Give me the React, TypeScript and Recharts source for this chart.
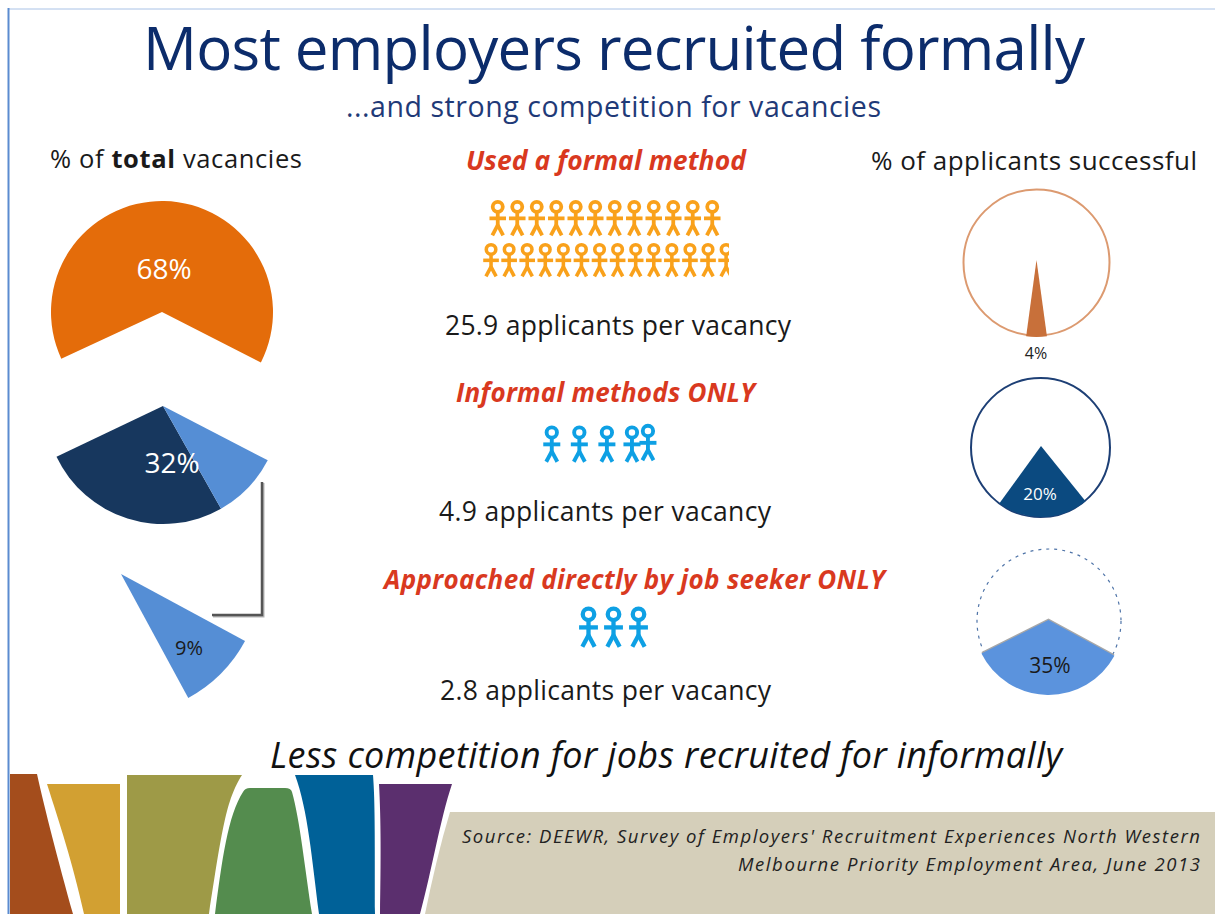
import { Cell, Pie, PieChart, Scatter, ScatterChart, XAxis, YAxis } from "recharts";

const FONT = "'Open Sans', 'Noto Sans', sans-serif";

// drawn shares as measured on the picture (they differ a little from the printed labels)
const formalShare = [64.4, 35.6];
const informalShare = [26.1, 9.2, 64.7];
const directShare = [9.2, 90.8];
const success4 = [4.3, 95.7];
const success20 = [20.8, 79.2];
const success35 = [34.7, 65.3];

const vacancyLabels = ["68%", "32%", "9%"];
const successLabels = ["4%", "20%", "35%"];

const formalRowA = [1, 2, 3, 4, 5, 6, 7, 8, 9, 10, 11, 12];
const formalRowB = [1, 2, 3, 4, 5, 6, 7, 8, 9, 10, 11, 12, 13, 14];
const informalCols = [1, 2, 3, 3.91, 4.49];
const informalRows = [0.5, 0.5, 0.5, 0.5, 0.535];
const directCols = [1, 2, 3];

const toSlices = (values: number[]) => values.map((value) => ({ value }));

function Person({ cx, cy, color, h }: any) {
  const sw = h * 0.105;
  return (
    <g stroke={color} strokeWidth={sw} fill="none">
      <circle cx={cx} cy={cy - h * 0.31} r={h * 0.14} />
      <line x1={cx} y1={cy - h * 0.17} x2={cx} y2={cy + h * 0.22} />
      <line x1={cx - h * 0.23} y1={cy + h * 0.01} x2={cx + h * 0.23} y2={cy + h * 0.01} />
      <line x1={cx} y1={cy + h * 0.2} x2={cx - h * 0.15} y2={cy + h * 0.48} />
      <line x1={cx} y1={cy + h * 0.2} x2={cx + h * 0.15} y2={cy + h * 0.48} />
    </g>
  );
}

function PeopleRow({ cols, rows, domain, left, top, width, height, color, h }: any) {
  const data = cols.map((col: number, i: number) => ({ col, row: rows ? rows[i] : 0.5 }));
  return (
    <div style={{ position: "absolute", left, top }}>
      <ScatterChart width={width} height={height} margin={{ top: 0, right: 0, bottom: 0, left: 0 }}>
        <XAxis type="number" dataKey="col" domain={domain} hide />
        <YAxis type="number" dataKey="row" domain={[0, 1]} hide />
        <Scatter
          data={data}
          isAnimationActive={false}
          shape={(p: any) => <Person cx={p.cx} cy={p.cy} color={color} h={h} />}
        />
      </ScatterChart>
    </div>
  );
}

function T({ x, y, w, size, color = "#1a1a1a", italic, bold, anchor = "start", children }: any) {
  return (
    <text
      x={x}
      y={y}
      fontSize={size}
      fill={color}
      fontStyle={italic ? "italic" : "normal"}
      fontWeight={bold ? 700 : 400}
      textAnchor={anchor}
      textLength={w}
      lengthAdjust={w ? "spacing" : undefined}
      fontFamily={FONT}
    >
      {children}
    </text>
  );
}

export default function App() {
  return (
    <div style={{ position: "absolute", left: 0, top: 0, width: 1215, height: 914, background: "#fff", overflow: "hidden" }}>
      <svg width={1215} height={914} style={{ position: "absolute", left: 0, top: 0 }}>
        <line x1={8} y1={9} x2={1215} y2={9} stroke="#a9c2e6" strokeWidth={1} />
        <line x1={8.5} y1={8} x2={8.5} y2={914} stroke="#5b8bd0" strokeWidth={2} />

        <path d="M10 774 L37 774 C45 810 58 860 73 914 L10 914 Z" fill="#a44d1c" />
        <path d="M47 784 L120 784 L120 914 L84 914 C72 860 60 825 47 784 Z" fill="#d2a032" />
        <path d="M127 775 L242 775 C226 800 222 830 209 914 L127 914 Z" fill="#9e9a47" />
        <path d="M215 914 C222 860 228 815 243 792 Q245 788 250 788 L285 788 Q291 788 292 792 C300 820 305 870 312 914 Z" fill="#548c4e" />
        <path d="M295 775 L373 775 C375 800 375 830 375 914 L319 914 C312 860 308 810 295 775 Z" fill="#006198" />
        <path d="M379 784 L452 784 C440 820 432 870 420 914 L380 914 C381 860 381 820 379 784 Z" fill="#5b2f6e" />
        <path d="M450 812 L1215 812 L1215 914 L425 914 C432 880 440 845 450 812 Z" fill="#d5cfba" />

        <polyline points="263,483 263,616 213,616" fill="none" stroke="#b5b5b5" strokeWidth={3} />
        <polyline points="262,482 262,615 212,615" fill="none" stroke="#555" strokeWidth={2.5} />

        <circle cx={1036.5} cy={262.5} r={73} fill="#fff" stroke="#dc9a70" strokeWidth={2} />
        <circle cx={1040.5} cy={447.5} r={69.5} fill="#fff" stroke="#1d3f75" strokeWidth={2} />
        <circle cx={1049} cy={621} r={72} fill="#fff" stroke="#4f74a8" strokeWidth={1.2} strokeDasharray="3 5" />
      </svg>

      <div style={{ position: "absolute", left: 0, top: 0 }}>
        <PieChart width={1215} height={914} margin={{ top: 0, right: 0, bottom: 0, left: 0 }}>
          <Pie data={toSlices(formalShare)} dataKey="value" cx={162} cy={312} outerRadius={111} startAngle={-27} endAngle={333} stroke="none" isAnimationActive={false}>
            <Cell fill="#e46c0a" />
            <Cell fill="none" />
          </Pie>
          <Pie data={toSlices(informalShare)} dataKey="value" cx={163} cy={406} outerRadius={118} startAngle={205.5} endAngle={565.5} stroke="none" isAnimationActive={false}>
            <Cell fill="#17375e" />
            <Cell fill="#558ed5" />
            <Cell fill="none" />
          </Pie>
          <Pie data={toSlices(directShare)} dataKey="value" cx={121} cy={574} outerRadius={141} startAngle={-61.5} endAngle={298.5} stroke="none" isAnimationActive={false}>
            <Cell fill="#558ed5" />
            <Cell fill="none" />
          </Pie>
          <Pie data={toSlices(success4)} dataKey="value" cx={1036.5} cy={260} outerRadius={77} startAngle={-97.7} endAngle={262.3} stroke="none" isAnimationActive={false}>
            <Cell fill="#c8703a" />
            <Cell fill="none" />
          </Pie>
          <Pie data={toSlices(success20)} dataKey="value" cx={1041} cy={446} outerRadius={71} startAngle={-126} endAngle={234} stroke="none" isAnimationActive={false}>
            <Cell fill="#0b4a80" />
            <Cell fill="none" />
          </Pie>
          <Pie data={toSlices(success35)} dataKey="value" cx={1048.5} cy={618.5} outerRadius={75} startAngle={-153.4} endAngle={206.6} stroke="none" isAnimationActive={false}>
            <Cell fill="#a8a8a8" />
            <Cell fill="none" />
          </Pie>
          <Pie data={toSlices(success35)} dataKey="value" cx={1048.5} cy={620} outerRadius={75} startAngle={-153.4} endAngle={206.6} stroke="none" isAnimationActive={false}>
            <Cell fill="#5b93dd" />
            <Cell fill="none" />
          </Pie>
        </PieChart>
      </div>

      <PeopleRow cols={formalRowA} domain={[0.5, 12.5]} left={488} top={196} width={234} height={44} color="#f9a11b" h={36} />
      <PeopleRow cols={formalRowB} domain={[0.5, 14.16]} left={482} top={240} width={247} height={40} color="#f9a11b" h={34} />
      <PeopleRow cols={informalCols} rows={informalRows} domain={[0.5, 5]} left={538} top={422} width={124} height={44} color="#0ea0e4" h={37} />
      <PeopleRow cols={directCols} domain={[0.5, 3.5]} left={576} top={605} width={75} height={44} color="#0ea0e4" h={41} />

      <svg width={1215} height={914} style={{ position: "absolute", left: 0, top: 0 }}>
        <T x={143} y={70} w={942} size={60} color="#0c2c6b">Most employers recruited formally</T>
        <T x={346} y={117} w={535} size={28.5} color="#1f3a78">...and strong competition for vacancies</T>

        <T x={50} y={168} w={252} size={25.5}>% of <tspan fontWeight={700}>total</tspan> vacancies</T>
        <T x={466} y={170} w={280} size={26.5} color="#d9391f" italic bold>Used a formal method</T>
        <T x={871} y={170} w={326} size={26}>% of applicants successful</T>

        <T x={445} y={335} w={346} size={26.5}>25.9 applicants per vacancy</T>
        <T x={456} y={402} w={299} size={26} color="#d9391f" italic bold>Informal methods ONLY</T>
        <T x={439} y={521} w={332} size={26.5}>4.9 applicants per vacancy</T>
        <T x={384} y={589} w={501} size={26} color="#d9391f" italic bold>Approached directly by job seeker ONLY</T>
        <T x={440} y={700} w={331} size={26.5}>2.8 applicants per vacancy</T>

        <T x={270} y={768} w={792} size={36} color="#111" italic>Less competition for jobs recruited for informally</T>

        <T x={462} y={843} w={738} size={18.5} color="#222" italic>Source: DEEWR, Survey of Employers' Recruitment Experiences  North Western</T>
        <T x={738} y={871} w={462} size={18.5} color="#222" italic>Melbourne Priority Employment  Area, June 2013</T>

        <T x={164} y={279} size={28} color="#fff" anchor="middle">{vacancyLabels[0]}</T>
        <T x={172} y={473} size={28} color="#fff" anchor="middle">{vacancyLabels[1]}</T>
        <T x={189} y={655} size={20} color="#1a1a1a" anchor="middle">{vacancyLabels[2]}</T>
        <T x={1036} y={359} size={16} color="#222" anchor="middle">{successLabels[0]}</T>
        <T x={1040} y={500} size={17} color="#fff" anchor="middle">{successLabels[1]}</T>
        <T x={1050} y={673} size={21} color="#1a1a1a" anchor="middle">{successLabels[2]}</T>
      </svg>
    </div>
  );
}
